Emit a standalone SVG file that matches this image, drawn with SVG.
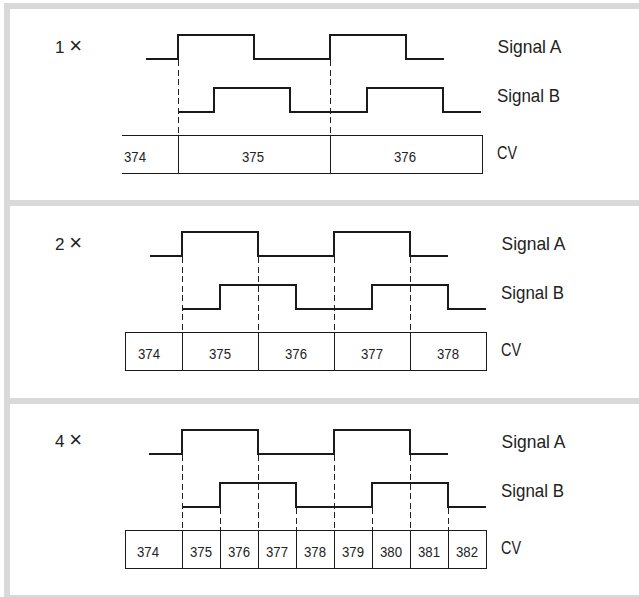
<svg xmlns="http://www.w3.org/2000/svg" width="639" height="597" viewBox="0 0 639 597">
<style>
.frame{fill:#d9d9d9}
.sig{fill:none;stroke:#1a1a1a;stroke-width:2;stroke-linejoin:miter;stroke-linecap:butt}
.dash{fill:none;stroke:#222;stroke-width:1;stroke-dasharray:6 3.5;shape-rendering:crispEdges}
.box{fill:none;stroke:#1a1a1a;stroke-width:1;shape-rendering:crispEdges}
.lbl{font-family:"Liberation Sans",Arial,sans-serif;font-size:18.5px;fill:#222}
.mul{font-family:"Liberation Sans",Arial,sans-serif;font-size:17px;fill:#222}
.x{font-size:22px}
.num{font-family:"Liberation Sans",Arial,sans-serif;font-size:15.5px;fill:#222;text-anchor:middle}
</style>
<rect width="639" height="597" fill="#ffffff"/>
<g id="frame">
<rect class="frame" x="4" y="3" width="6" height="594"/>
<rect class="frame" x="4" y="3" width="635" height="6"/>
<rect class="frame" x="4" y="200" width="635" height="6"/>
<rect class="frame" x="4" y="398" width="635" height="6"/>
<rect class="frame" x="4" y="595" width="635" height="2"/>
</g>
<g id="panel1">
<text class="mul" x="55" y="53">1 <tspan class="x">×</tspan></text>
<text class="lbl" x="497.5" y="53" textLength="64" lengthAdjust="spacingAndGlyphs">Signal A</text>
<text class="lbl" x="497" y="102" textLength="63" lengthAdjust="spacingAndGlyphs">Signal B</text>
<text class="lbl" x="497" y="158.5" textLength="20" lengthAdjust="spacingAndGlyphs">CV</text>
<text class="num" x="135" y="161.5" textLength="22" lengthAdjust="spacingAndGlyphs">374</text>
<text class="num" x="253" y="161.5" textLength="22" lengthAdjust="spacingAndGlyphs">375</text>
<text class="num" x="405" y="161.5" textLength="22" lengthAdjust="spacingAndGlyphs">376</text>
</g>
<g id="panel2">
<text class="mul" x="55" y="250">2 <tspan class="x">×</tspan></text>
<text class="lbl" x="501.5" y="250" textLength="64" lengthAdjust="spacingAndGlyphs">Signal A</text>
<text class="lbl" x="501" y="299" textLength="63" lengthAdjust="spacingAndGlyphs">Signal B</text>
<text class="lbl" x="501" y="355.5" textLength="20" lengthAdjust="spacingAndGlyphs">CV</text>
<text class="num" x="149" y="358.5" textLength="22" lengthAdjust="spacingAndGlyphs">374</text>
<text class="num" x="220" y="358.5" textLength="22" lengthAdjust="spacingAndGlyphs">375</text>
<text class="num" x="296" y="358.5" textLength="22" lengthAdjust="spacingAndGlyphs">376</text>
<text class="num" x="372" y="358.5" textLength="22" lengthAdjust="spacingAndGlyphs">377</text>
<text class="num" x="448" y="358.5" textLength="22" lengthAdjust="spacingAndGlyphs">378</text>
</g>
<g id="panel3">
<text class="mul" x="55" y="447">4 <tspan class="x">×</tspan></text>
<text class="lbl" x="501.5" y="448" textLength="64" lengthAdjust="spacingAndGlyphs">Signal A</text>
<text class="lbl" x="501" y="497" textLength="63" lengthAdjust="spacingAndGlyphs">Signal B</text>
<text class="lbl" x="501" y="553.5" textLength="20" lengthAdjust="spacingAndGlyphs">CV</text>
<text class="num" x="148" y="556.5" textLength="22" lengthAdjust="spacingAndGlyphs">374</text>
<text class="num" x="201" y="556.5" textLength="22" lengthAdjust="spacingAndGlyphs">375</text>
<text class="num" x="239" y="556.5" textLength="22" lengthAdjust="spacingAndGlyphs">376</text>
<text class="num" x="277" y="556.5" textLength="22" lengthAdjust="spacingAndGlyphs">377</text>
<text class="num" x="315" y="556.5" textLength="22" lengthAdjust="spacingAndGlyphs">378</text>
<text class="num" x="353" y="556.5" textLength="22" lengthAdjust="spacingAndGlyphs">379</text>
<text class="num" x="391" y="556.5" textLength="22" lengthAdjust="spacingAndGlyphs">380</text>
<text class="num" x="429" y="556.5" textLength="22" lengthAdjust="spacingAndGlyphs">381</text>
<text class="num" x="467" y="556.5" textLength="22" lengthAdjust="spacingAndGlyphs">382</text>
</g>
<g id="connectors">
<path class="sig" d="M146,59 H178 V35 H254 V59 H330 V35 H406 V59 H444"/>
<path class="sig" d="M178,112 H214 V88 H290 V112 H367 V88 H443 V112 H481"/>
<path class="dash" d="M178,60 V135 M330,60 V135"/>
<path class="box" d="M122,135.5 H482 V173.5 H122 M178,135.5 V173.5 M330,135.5 V173.5"/>
<path class="sig" d="M150,256 H182 V232 H258 V256 H334 V232 H410 V256 H448"/>
<path class="sig" d="M182,309 H220 V285 H296 V309 H372 V285 H448 V309 H486"/>
<path class="dash" d="M182,257 V332 M258,257 V332 M334,257 V332 M410,257 V332"/>
<rect class="box" x="125" y="332.5" width="361" height="38"/>
<path class="box" d="M182,332.5 V370.5 M258,332.5 V370.5 M334,332.5 V370.5 M410,332.5 V370.5"/>
<path class="sig" d="M149,454 H182 V430 H258 V454 H334 V430 H410 V454 H448"/>
<path class="sig" d="M182,507 H220 V483 H296 V507 H372 V483 H448 V507 H486"/>
<path class="dash" d="M182,455 V530 M258,455 V530 M334,455 V530 M410,455 V530 M220,508 V530 M296,508 V530 M372,508 V530 M448,508 V530"/>
<rect class="box" x="125" y="530.5" width="361" height="38"/>
<path class="box" d="M182,530.5 V568.5 M220,530.5 V568.5 M258,530.5 V568.5 M296,530.5 V568.5 M334,530.5 V568.5 M372,530.5 V568.5 M410,530.5 V568.5 M448,530.5 V568.5"/>
</g>
</svg>
